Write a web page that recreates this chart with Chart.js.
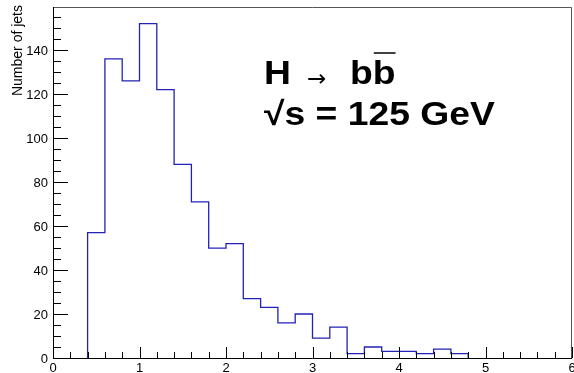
<!DOCTYPE html>
<html>
<head>
<meta charset="utf-8">
<script src="https://cdn.jsdelivr.net/npm/chart.js@4"></script>
<style>
  html, body { margin: 0; padding: 0; background: #fff; }
  #wrap { width: 574px; height: 373px; position: relative; }
</style>
</head>
<body>
<div id="wrap"><canvas id="jetChart"></canvas></div>
<script>
// Histogram bins (lower edges, width 0.2) and entries per bin
const binEdges = [0.4, 0.6, 0.8, 1.0, 1.2, 1.4, 1.6, 1.8, 2.0, 2.2, 2.4, 2.6, 2.8, 3.0, 3.2, 3.4, 3.6, 3.8, 4.0, 4.2, 4.4, 4.6, 4.8];
const binCounts = [57, 136, 126, 152, 122, 88, 71, 50, 52, 27, 23, 16, 20, 9, 14, 2, 5, 3, 3, 2, 4, 2];

// Axis ticks
const xTicks = [0, 1, 2, 3, 4, 5, 6];
const xTickLabels = ['0', '1', '2', '3', '4', '5', '6'];
const yTicks = [0, 20, 40, 60, 80, 100, 120, 140];
const yTickLabels = ['0', '20', '40', '60', '80', '100', '120', '140'];

const yTitle = 'Number of jets';
const yMax = 152 * 1.05;

// Build the step outline: up at the first edge, across each bin, down at the last edge
const outline = [{ x: binEdges[0], y: 0 }];
binCounts.forEach((c, i) => {
  outline.push({ x: binEdges[i], y: c });
  outline.push({ x: binEdges[i + 1], y: c });
});
outline.push({ x: binEdges[binEdges.length - 1], y: 0 });

// ROOT-style frame, inward ticks, labels and the process label
const rootFrame = {
  id: 'rootFrame',
  afterDatasetsDraw(chart) {
    const { ctx, chartArea: a, scales } = chart;
    const xs = scales.x, ys = scales.y;
    ctx.save();

    // top and right border
    ctx.strokeStyle = '#555';
    ctx.lineWidth = 1;
    ctx.beginPath();
    ctx.moveTo(a.left, a.top + 0.5);
    ctx.lineTo(a.right - 0.5, a.top + 0.5);
    ctx.lineTo(a.right - 0.5, a.bottom);
    ctx.stroke();

    // axes
    ctx.strokeStyle = '#000';
    ctx.beginPath();
    ctx.moveTo(a.left + 0.5, a.top);
    ctx.lineTo(a.left + 0.5, a.bottom + 0.5);
    ctx.lineTo(a.right, a.bottom + 0.5);
    ctx.stroke();

    // y ticks: major every 20, minor every 5
    ctx.beginPath();
    for (let v = 0; v <= yMax; v += 5) {
      const py = Math.round(ys.getPixelForValue(v)) + 0.5;
      const len = v % 20 === 0 ? 15 : 8;
      ctx.moveTo(a.left, py);
      ctx.lineTo(a.left + len, py);
    }
    // x ticks: major every 1, minor every 0.2
    for (let i = 0; i <= 30; i++) {
      const px = Math.round(xs.getPixelForValue(i * 0.2)) + 0.5;
      const len = i % 5 === 0 ? 11 : 6;
      ctx.moveTo(px, a.bottom);
      ctx.lineTo(px, a.bottom - len);
    }
    ctx.stroke();

    // tick labels
    ctx.fillStyle = '#000';
    ctx.font = '13px "Liberation Sans", Arial, sans-serif';
    ctx.textAlign = 'right';
    ctx.textBaseline = 'middle';
    yTicks.forEach((v, i) => {
      ctx.fillText(yTickLabels[i], a.left - 5, ys.getPixelForValue(v) + 1);
    });
    ctx.textAlign = 'center';
    ctx.textBaseline = 'top';
    xTicks.forEach((v, i) => {
      ctx.fillText(xTickLabels[i], xs.getPixelForValue(v), a.bottom + 4);
    });

    // y title, right-aligned to the top of the axis
    ctx.save();
    ctx.translate(22, 5);
    ctx.rotate(-Math.PI / 2);
    ctx.font = '14px "Liberation Sans", Arial, sans-serif';
    ctx.textAlign = 'right';
    ctx.textBaseline = 'alphabetic';
    ctx.fillText(yTitle, 0, 0);
    ctx.restore();

    // process label
    const big = 'bold 33px "Liberation Sans", Arial, sans-serif';
    const stretch = 1.13;
    ctx.textAlign = 'left';
    ctx.textBaseline = 'alphabetic';

    ctx.save();
    ctx.translate(264, 84);
    ctx.scale(stretch, 1);
    ctx.font = big;
    ctx.fillText('H', 0, 0);
    ctx.restore();

    ctx.font = '23px "DejaVu Sans", sans-serif';
    ctx.fillText('\u2192', 307, 86);

    ctx.save();
    ctx.translate(350, 84);
    ctx.scale(stretch, 1);
    ctx.font = big;
    ctx.fillText('bb', 0, 0);
    const bw = ctx.measureText('b').width;
    ctx.restore();
    ctx.lineWidth = 1.5;
    ctx.beginPath();
    ctx.moveTo(350 + bw * stretch + 1, 53);
    ctx.lineTo(350 + 2 * bw * stretch, 53);
    ctx.stroke();

    ctx.save();
    ctx.translate(264, 125);
    ctx.scale(stretch, 1);
    ctx.font = big;
    ctx.fillText('\u221As = 125 GeV', 0, 0);
    ctx.restore();

    ctx.restore();
  }
};

const ctx = document.getElementById('jetChart').getContext('2d');
const jetChart = new Chart(ctx, {
  type: 'line',
  data: {
    datasets: [{
      data: outline,
      borderColor: '#2222b8',
      borderWidth: 1.3,
      pointRadius: 0,
      tension: 0,
      fill: false,
    }],
  },
  options: {
    responsive: true,
    maintainAspectRatio: false,
    animation: false,
    layout: { padding: { left: 53, right: 2, top: 7, bottom: 15 } },
    plugins: {
      legend: { display: false },
      tooltip: { enabled: false },
    },
    scales: {
      x: { type: 'linear', min: 0, max: 6, display: false },
      y: { min: 0, max: yMax, display: false },
    },
  },
  plugins: [rootFrame],
});
</script>
</body>
</html>
